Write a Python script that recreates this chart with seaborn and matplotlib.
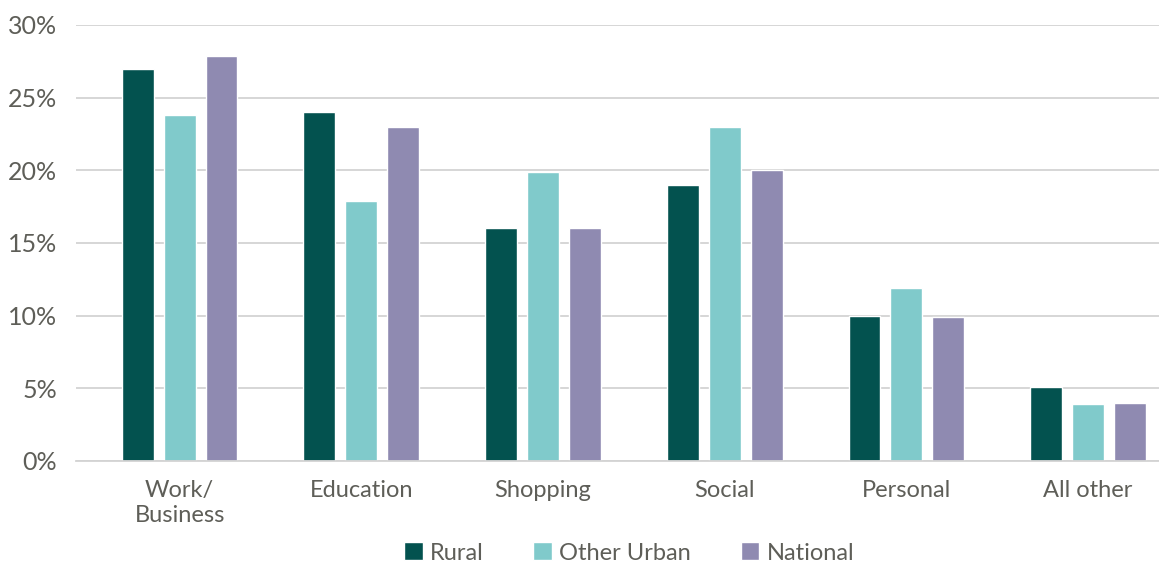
import matplotlib
matplotlib.use("Agg")
import matplotlib.pyplot as plt
import seaborn as sns
import pandas as pd
from matplotlib.ticker import FuncFormatter

categories = ["Work/\nBusiness", "Education", "Shopping", "Social", "Personal", "All other"]
rural = [27.0, 24.0, 16.0, 19.0, 10.0, 5.1]
other_urban = [23.8, 17.9, 19.9, 23.0, 11.9, 3.9]
national = [27.9, 23.0, 16.0, 20.0, 9.9, 4.0]
series_names = ["Rural", "Other Urban", "National"]
colors = ["#03524F", "#80CACB", "#8F8AB1"]
yticks = [0, 5, 10, 15, 20, 25, 30]

rows = []
for name, vals in zip(series_names, [rural, other_urban, national]):
    for c, v in zip(categories, vals):
        rows.append({"category": c, "series": name, "value": v})
df = pd.DataFrame(rows)

sns.set_theme(style="white")
plt.rcParams["font.family"] = ["Lato", "DejaVu Sans"]
text_color = "#5E5E58"

fig = plt.figure(figsize=(11.59, 5.62), dpi=100)
ax = fig.add_axes([76/1159, 101/562, 1 - 76/1159, 436/562])

sns.barplot(data=df, x="category", y="value", hue="series", order=categories,
            hue_order=series_names, palette=colors, width=0.692, gap=0.24,
            saturation=1, ax=ax, legend=True)

ax.set_ylim(0, 30)
ax.set_xlim(-0.57, 5.39)
ax.set_yticks(yticks)
ax.yaxis.set_major_formatter(FuncFormatter(lambda v, p: f"{int(v)}%"))
ax.grid(axis="y", color="#D3D3D3", linewidth=1.3)
ax.set_axisbelow(True)
for s in ["left", "right", "top"]:
    ax.spines[s].set_visible(False)
ax.spines["bottom"].set_color("#D3D3D3")
ax.spines["bottom"].set_linewidth(1.3)
ax.set_xlabel("")
ax.set_ylabel("")
ax.tick_params(axis="y", length=0, pad=13.5, labelsize=18, labelcolor=text_color)
ax.tick_params(axis="x", length=0, pad=14, labelsize=17, labelcolor=text_color)
for lbl in ax.get_xticklabels():
    lbl.set_linespacing(1.2)

handles, labels = ax.get_legend_handles_labels()
ax.get_legend().remove()
fig.legend(handles, labels, loc="center", bbox_to_anchor=(629/1159, 9/562),
           ncol=3, frameon=False, fontsize=17, labelcolor=text_color,
           handlelength=0.8, handleheight=0.8, handletextpad=0.3, columnspacing=2.1)

fig.savefig("out.png", dpi=100)
